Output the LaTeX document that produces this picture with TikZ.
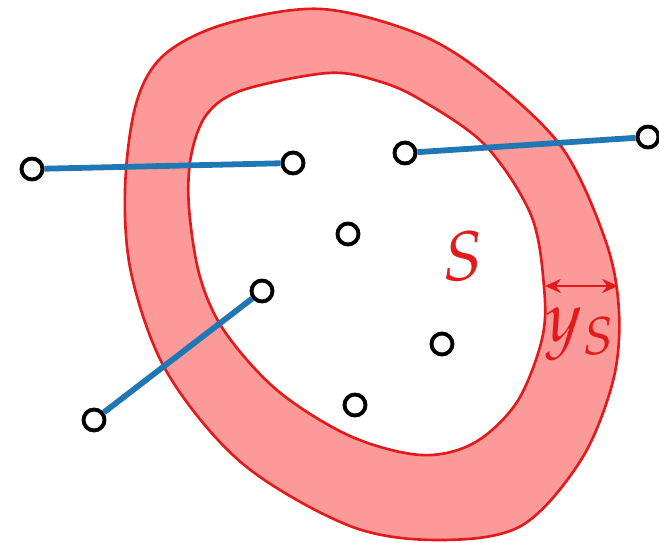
\documentclass[tikz,border=0pt]{standalone}
\usepackage{amsmath}
\usepackage{mathpazo}
\usetikzlibrary{arrows.meta}
\definecolor{ringedge}{HTML}{E31A1C}
\definecolor{ringfill}{HTML}{FB9A99}
\definecolor{linkblue}{HTML}{1F77B4}
\tikzset{
  pt/.style={circle, draw=black, fill=white, line width=2.2pt, inner sep=0pt, minimum size=0.42cm},
  link/.style={linkblue, line width=3.3pt},
}
\begin{document}
\begin{tikzpicture}[x=0.02cm, y=-0.02cm, >={Stealth[length=9pt,width=8pt]}]
        \useasboundingbox (0,0) rectangle (659,543);
        % ring around S
        \fill[ringfill, even odd rule]
          plot[smooth cycle, tension=0.55] coordinates {(321,9) (225,24) (164,55) (136,104) (125,190) (132,277) (168,374) (243,464) (350,526) (439,540) (521,526) (581,460) (613,381) (619,312) (606,242) (563,149) (492,80) (421,35)}
          plot[smooth cycle, tension=0.55] coordinates {(328,73) (243,90) (207,114) (191,156) (189,208) (200,277) (225,332) (278,391) (350,436) (421,455) (474,443) (517,402) (542,339) (544,287) (531,215) (485,145) (421,100) (378,81)};
        \draw[ringedge, line width=1.5pt]
          plot[smooth cycle, tension=0.55] coordinates {(321,9) (225,24) (164,55) (136,104) (125,190) (132,277) (168,374) (243,464) (350,526) (439,540) (521,526) (581,460) (613,381) (619,312) (606,242) (563,149) (492,80) (421,35)};
        \draw[ringedge, line width=1.5pt]
          plot[smooth cycle, tension=0.55] coordinates {(328,73) (243,90) (207,114) (191,156) (189,208) (200,277) (225,332) (278,391) (350,436) (421,455) (474,443) (517,402) (542,339) (544,287) (531,215) (485,145) (421,100) (378,81)};

        % points
        \node[pt] (p1) at (32,169) {};
        \node[pt] (p2) at (293,163) {};
        \node[pt] (p3) at (405,153) {};
        \node[pt] (p4) at (648,137) {};
        \node[pt] (p5) at (348,234) {};
        \node[pt] (p6) at (262,291) {};
        \node[pt] (p7) at (94,420) {};
        \node[pt] (p8) at (442,344) {};
        \node[pt] (p9) at (355,405) {};

        \draw[link] (p1) -- (p2);
        \draw[link] (p3) -- (p4);
        \draw[link] (p6) -- (p7);

        % width of the ring
        \coordinate (ysin) at (545,286);
        \coordinate (ysout) at (618,286);
        \draw[<->, ringedge, line width=1.5pt] (ysin) -- (ysout);
        \node[ringedge, font=\fontsize{40}{44}\selectfont] (lblS) at (463,256) {$S$};
        \node[ringedge, font=\fontsize{40}{44}\selectfont] (lblyS) at (580,334) {$y_S$};
    \end{tikzpicture}
\end{document}
